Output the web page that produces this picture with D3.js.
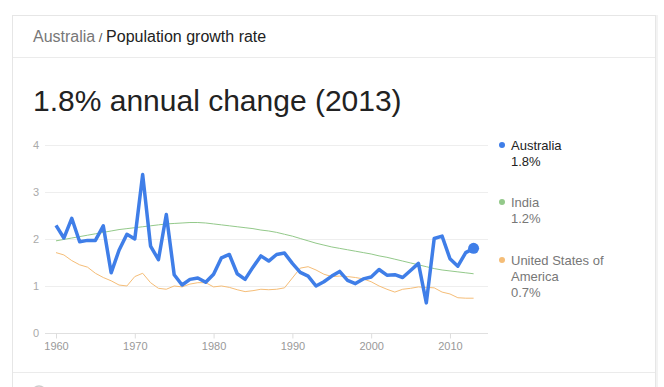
<!DOCTYPE html>
<html>
<head>
<meta charset="utf-8">
<script src="https://cdn.jsdelivr.net/npm/d3@7"></script>
<style>
  body { margin: 0; background: #fff; font-family: "Liberation Sans", Arial, sans-serif; }
  svg text { font-family: "Liberation Sans", Arial, sans-serif; }
</style>
</head>
<body>
<div id="chart"></div>
<script>
// Data (annual population growth, %)
const years = d3.range(1960, 2014);
const australia = [
  2.28, 2.01, 2.43, 1.93, 1.96, 1.96, 2.27, 1.27, 1.75, 2.09,
  1.99, 3.36, 1.84, 1.55, 2.51, 1.23, 1.01, 1.13, 1.16, 1.07,
  1.24, 1.59, 1.66, 1.25, 1.13, 1.39, 1.63, 1.52, 1.66, 1.69,
  1.47, 1.28, 1.20, 0.99, 1.08, 1.20, 1.30, 1.11, 1.04, 1.14,
  1.18, 1.34, 1.22, 1.23, 1.17, 1.32, 1.47, 0.63, 2.00, 2.05,
  1.57, 1.41, 1.70, 1.79
];
const india = [
  1.95, 1.98, 2.01, 2.04, 2.07, 2.10, 2.13, 2.16, 2.19, 2.21,
  2.23, 2.25, 2.27, 2.29, 2.31, 2.32, 2.33, 2.34, 2.34, 2.33,
  2.31, 2.29, 2.27, 2.25, 2.23, 2.21, 2.18, 2.16, 2.13, 2.09,
  2.05, 2.00, 1.95, 1.90, 1.86, 1.82, 1.79, 1.76, 1.73, 1.70,
  1.67, 1.63, 1.60, 1.56, 1.52, 1.48, 1.44, 1.40, 1.36, 1.33,
  1.31, 1.29, 1.27, 1.25
];
const usa = [
  1.70, 1.65, 1.53, 1.44, 1.39, 1.26, 1.17, 1.10, 1.01, 0.99,
  1.19, 1.26, 1.06, 0.94, 0.92, 0.99, 0.97, 1.03, 1.06, 1.06,
  0.97, 0.99, 0.96, 0.91, 0.87, 0.89, 0.92, 0.91, 0.92, 0.95,
  1.16, 1.37, 1.40, 1.33, 1.24, 1.19, 1.20, 1.19, 1.17, 1.14,
  1.08, 0.99, 0.92, 0.86, 0.92, 0.94, 0.97, 0.96, 0.95, 0.86,
  0.82, 0.74, 0.73, 0.73
];
const xTicks = [1960, 1970, 1980, 1990, 2000, 2010];
const yTicks = [0, 1, 2, 3, 4];

const series = [
  { name: ["Australia"], latest: "1.8%", values: australia, color: "#3f7ee8", width: 3.5, textColor: "#222" },
  { name: ["India"], latest: "1.2%", values: india, color: "#93c98a", width: 1, textColor: "#777" },
  { name: ["United States of", "America"], latest: "0.7%", values: usa, color: "#f5bd77", width: 1, textColor: "#777" }
];

const width = 664;
const height = 387;

const svg = d3.select("#chart")
  .append("svg")
  .attr("width", width)
  .attr("height", height);

// Card
svg.append("rect")
  .attr("x", 13.5).attr("y", 16.5)
  .attr("width", 643).attr("height", 400)
  .attr("fill", "none")
  .attr("stroke", "#f3f3f3")
  .attr("stroke-width", 3);
svg.append("rect")
  .attr("x", 12.5).attr("y", 15.5)
  .attr("width", 643).attr("height", 400)
  .attr("fill", "#fff")
  .attr("stroke", "#e6e6e6");

svg.append("line")
  .attr("x1", 13).attr("x2", 655)
  .attr("y1", 57.5).attr("y2", 57.5)
  .attr("stroke", "#ebebeb");
svg.append("line")
  .attr("x1", 13).attr("x2", 655)
  .attr("y1", 372.5).attr("y2", 372.5)
  .attr("stroke", "#ebebeb");

// Header
const header = svg.append("text")
  .attr("x", 33)
  .attr("y", 42)
  .attr("font-size", 16);
header.append("tspan").attr("fill", "#777").text("Australia");
header.append("tspan").attr("fill", "#555").attr("font-size", 13).text(" / ");
header.append("tspan").attr("fill", "#222").text("Population growth rate");

svg.append("text")
  .attr("x", 33)
  .attr("y", 111)
  .attr("font-size", 30)
  .attr("fill", "#222")
  .text("1.8% annual change (2013)");

// Scales
const xScale = d3.scaleLinear()
  .domain([1960, 2013])
  .range([56, 473.6]);

const yScale = d3.scaleLinear()
  .domain([0, 4])
  .range([332.5, 144.5]);

// Gridlines
svg.append("g")
  .selectAll("line")
  .data(yTicks)
  .enter()
  .append("line")
  .attr("x1", 45)
  .attr("x2", 488)
  .attr("y1", (d) => Math.round(yScale(d)) + 0.5)
  .attr("y2", (d) => Math.round(yScale(d)) + 0.5)
  .attr("stroke", (d) => (d === 0 ? "#e0e0e0" : "#eeeeee"));

// Y labels
svg.append("g")
  .selectAll("text")
  .data(yTicks)
  .enter()
  .append("text")
  .attr("x", 39)
  .attr("y", (d) => yScale(d) + 4)
  .attr("text-anchor", "end")
  .attr("font-size", 11)
  .attr("fill", "#aaa")
  .text((d) => d);

// X axis
const xAxis = d3.axisBottom(xScale)
  .tickValues(xTicks)
  .tickFormat(d3.format("d"))
  .tickSize(5)
  .tickPadding(4);

const gx = svg.append("g")
  .attr("transform", `translate(0, ${Math.round(yScale(0)) + 0.5})`)
  .call(xAxis);
gx.select(".domain").remove();
gx.selectAll("line").attr("stroke", "#ddd");
gx.selectAll("text")
  .attr("fill", "#999")
  .attr("font-size", 11)
  .attr("font-family", "Liberation Sans, Arial, sans-serif");

// Lines
const line = d3.line()
  .x((d, i) => xScale(years[i]))
  .y((d) => yScale(d));

const drawOrder = [series[1], series[2], series[0]];
svg.append("g")
  .selectAll("path")
  .data(drawOrder)
  .enter()
  .append("path")
  .attr("d", (d) => line(d.values))
  .attr("fill", "none")
  .attr("stroke", (d) => d.color)
  .attr("stroke-width", (d) => d.width)
  .attr("stroke-linejoin", "round");

// End point marker
svg.append("circle")
  .attr("cx", xScale(years[years.length - 1]))
  .attr("cy", yScale(australia[australia.length - 1]))
  .attr("r", 5.5)
  .attr("fill", "#3f7ee8");

// Legend
const legendTop = [150, 207, 265];
const legend = svg.append("g");
series.forEach((s, i) => {
  const g = legend.append("g");
  g.append("circle")
    .attr("cx", 502)
    .attr("cy", legendTop[i] - 5)
    .attr("r", 3)
    .attr("fill", s.color);
  const lines = s.name.concat([s.latest]);
  lines.forEach((t, j) => {
    g.append("text")
      .attr("x", 511)
      .attr("y", legendTop[i] + j * 16)
      .attr("font-size", 13)
      .attr("fill", j === lines.length - 1 && i === 0 ? "#222" : s.textColor)
      .text(t);
  });
});

// Footer icon peeking in at the bottom
svg.append("circle")
  .attr("cx", 39)
  .attr("cy", 393)
  .attr("r", 7)
  .attr("fill", "none")
  .attr("stroke", "#ccc")
  .attr("stroke-width", 1.5);
</script>
</body>
</html>
